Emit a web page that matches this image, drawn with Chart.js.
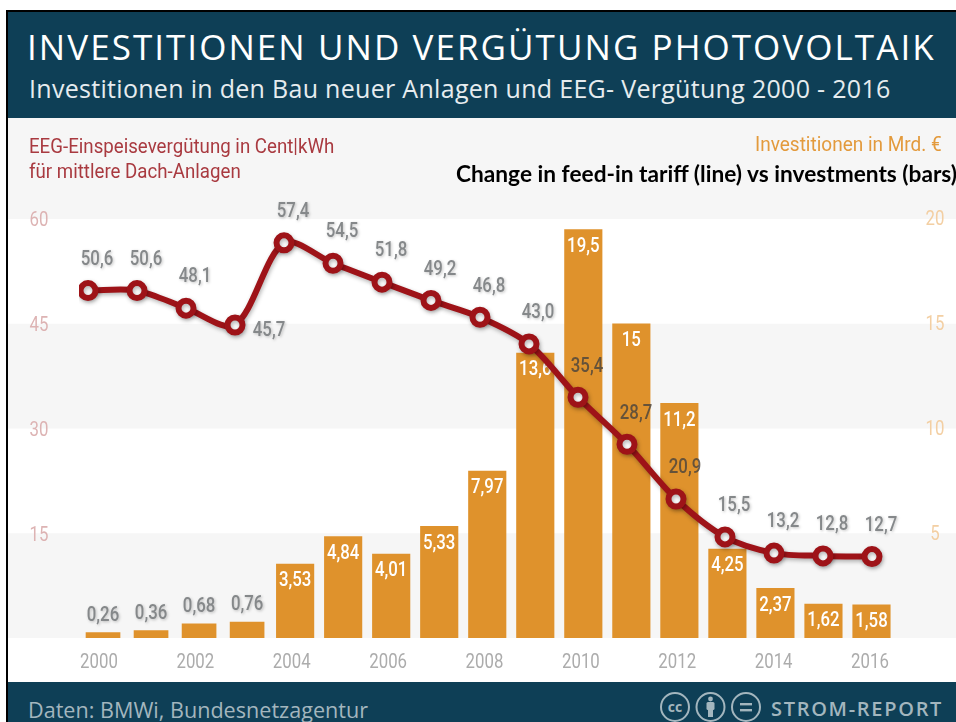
<!DOCTYPE html>
<html lang="de">
<head>
<meta charset="utf-8">
<title>Investitionen und Vergütung Photovoltaik</title>
<script src="https://cdn.jsdelivr.net/npm/chart.js@4"></script>
<style>
    html, body { margin: 0; padding: 0; background: #fff; overflow: hidden; }
    #page { position: relative; width: 956px; height: 722px; overflow: hidden; }
    #page canvas { position: absolute; left: 0; top: 0; }
    .abs { position: absolute; white-space: nowrap; line-height: 1; }
    #frame-top { left: 6px; top: 10px; width: 950px; height: 2px; background: #000; }
    #frame-left { left: 6px; top: 10px; width: 2px; height: 712px; background: #000; }
    #header { left: 8px; top: 12px; width: 948px; height: 106px; background: #0e3f56; }
    #footer { left: 8px; top: 682px; width: 948px; height: 40px; background: #0e3f56; }
    #title { left: 27px; top: 23px; color: #fff; font: 500 35px "Open Sans", sans-serif; letter-spacing: 2.05px; }
    #subtitle { left: 29px; top: 71px; color: #e6ecef; font: 25px "Open Sans", sans-serif; letter-spacing: 0.3px; }
    .narrow { font-family: Roboto, sans-serif; font-size: 21px; transform-origin: left center; transform: scaleX(0.89); }
    #axis-left-1 { left: 29px; top: 136px; color: #a93a40; }
    #axis-left-2 { left: 29px; top: 161px; color: #a93a40; }
    #axis-right { left: 755px; top: 134px; color: #e39a3c; transform: scaleX(0.905); }
    #note { left: 456px; top: 160px; color: #000; font: 700 22.7px Lato, sans-serif; }
    #source { left: 28px; top: 695px; color: #a3b6be; font: 21.6px "Open Sans", sans-serif; }
    #brand { left: 771px; top: 695px; color: #a3b6be; font: 600 20px "Open Sans", sans-serif; letter-spacing: 1.7px; }
    .cc { left: 660px; top: 692px; }
</style>
</head>
<body>
<div id="page">
    <canvas id="chart" width="956" height="722"></canvas>
    <div class="abs" id="frame-top"></div>
    <div class="abs" id="frame-left"></div>
    <div class="abs" id="header"></div>
    <div class="abs" id="footer"></div>
    <div class="abs" id="title">INVESTITIONEN UND VERGÜTUNG PHOTOVOLTAIK</div>
    <div class="abs" id="subtitle">Investitionen in den Bau neuer Anlagen und EEG- Vergütung 2000 - 2016</div>
    <div class="abs narrow" id="axis-left-1">EEG-Einspeisevergütung in Cent|kWh</div>
    <div class="abs narrow" id="axis-left-2">für mittlere Dach-Anlagen</div>
    <div class="abs narrow" id="axis-right">Investitionen in Mrd. €</div>
    <div class="abs" id="note">Change in feed-in tariff (line) vs investments (bars)</div>
    <div class="abs" id="source">Daten: BMWi, Bundesnetzagentur</div>
    <svg class="abs cc" width="102" height="30" viewBox="0 0 102 30">
        <g fill="none" stroke="#a3b6be" stroke-width="2">
            <circle cx="15" cy="15" r="14"></circle>
            <circle cx="50.5" cy="15" r="14"></circle>
            <circle cx="86" cy="15" r="14"></circle>
        </g>
        <text x="15" y="20" text-anchor="middle" fill="#a3b6be" font-family="Open Sans" font-weight="700" font-size="14">cc</text>
        <g fill="#a3b6be">
            <circle cx="50.5" cy="7" r="2.4"></circle>
            <rect x="46.5" y="10" width="8" height="8" rx="1.5"></rect>
            <rect x="48" y="16" width="5" height="9"></rect>
            <rect x="80" y="11" width="12" height="2.4"></rect>
            <rect x="80" y="17" width="12" height="2.4"></rect>
        </g>
    </svg>
    <div class="abs" id="brand">STROM-REPORT</div>
</div>
<script>
const years = ['2000', '2001', '2002', '2003', '2004', '2005', '2006', '2007', '2008', '2009', '2010', '2011', '2012', '2013', '2014', '2015', '2016'];
const lineYears = [2000, 2001, 2002, 2003, 2004, 2005, 2006, 2007, 2008, 2009, 2010, 2011, 2012, 2013, 2014, 2015, 2016];
const investments = [0.26, 0.36, 0.68, 0.76, 3.53, 4.84, 4.01, 5.33, 7.97, 13.6, 19.5, 15, 11.2, 4.25, 2.37, 1.62, 1.58];
const tariff = [50.6, 50.6, 48.1, 45.7, 57.4, 54.5, 51.8, 49.2, 46.8, 43.0, 35.4, 28.7, 20.9, 15.5, 13.2, 12.8, 12.7];
const yearTicks = [2000, 2002, 2004, 2006, 2008, 2010, 2012, 2014, 2016];
const tariffTicks = [15, 30, 45, 60];
const investTicks = [5, 10, 15, 20];

const SMALL_BARS = 4;    // the first years are drawn a little narrower

// grey bands run over the full width, not only the chart area
const bandsPlugin = {
    id: 'bands',
    beforeDraw(chart) {
        const ctx = chart.ctx;
        const y = chart.scales.yTariff;
        const bands = [[118, y.getPixelForValue(60)], [y.getPixelForValue(45), y.getPixelForValue(30)], [y.getPixelForValue(15), y.getPixelForValue(0)]];
        ctx.save();
        ctx.fillStyle = '#f6f6f6';
        bands.forEach(b => ctx.fillRect(8, b[0], 948, b[1] - b[0]));
        ctx.restore();
    }
};

// no condensed font is installed, so the labels are squeezed by hand
function drawText(ctx, text, x, y, color, shadow, weight) {
    ctx.save();
    ctx.translate(x, y);
    ctx.scale(0.8, 1);
    ctx.font = (weight || 400) + ' 21px Roboto, sans-serif';
    ctx.textAlign = 'center';
    ctx.textBaseline = 'middle';
    ctx.fillStyle = color;
    if (shadow) {
        ctx.shadowColor = 'rgba(0,0,0,0.25)';
        ctx.shadowBlur = 3;
        ctx.shadowOffsetX = 1;
        ctx.shadowOffsetY = 1;
    }
    ctx.fillText(text, 0, 0);
    ctx.restore();
}

// axis labels take their positions from the scales
const axisLabelsPlugin = {
    id: 'axisLabels',
    afterDraw(chart) {
        const ctx = chart.ctx;
        const s = chart.scales;
        yearTicks.forEach(v => drawText(ctx, String(v), s.xTicks.getPixelForValue(v), 663, '#acacac'));
        tariffTicks.forEach(v => drawText(ctx, String(v), 39, s.yTariff.getPixelForValue(v) + 2, '#ddb3b3'));
        investTicks.forEach(v => drawText(ctx, String(v), 935, s.yInvest.getPixelForValue(v) + 1, '#f3cfa3'));
    }
};

// value labels: bars while they are drawn (so the line stays on top), line labels last
const labelsPlugin = {
    id: 'valueLabels',
    beforeDatasetDraw(chart, args) {
        if (args.index !== 2) return;
        const ctx = chart.ctx;
        ctx.save();
        ctx.shadowColor = 'rgba(0,0,0,0.3)';
        ctx.shadowBlur = 4;
        ctx.shadowOffsetX = 1;
        ctx.shadowOffsetY = 2;
    },
    afterDatasetDraw(chart, args) {
        if (args.index === 2) {
            chart.ctx.restore();
            return;
        }
        args.meta.data.forEach((bar, i) => {
            const v = investments[i];
            if ((args.index === 0) !== (i < SMALL_BARS)) return;
            const text = String(v).replace('.', ',');
            if (v < 1) drawText(chart.ctx, text, bar.x, bar.y - 17, '#85888a', true, 500);
            else drawText(chart.ctx, text, bar.x, bar.y + 17, '#fff', false, 500);
        });
    },
    afterDatasetsDraw(chart) {
        const points = chart.getDatasetMeta(2).data;
        points.forEach((p, i) => {
            const text = tariff[i].toFixed(1).replace('.', ',');
            const below = i === 3;
            const dark = i >= 10 && i <= 12;
            drawText(chart.ctx, text, p.x + (below ? 34 : 9), p.y + (below ? 6 : -31), dark ? 'rgba(80,70,60,0.85)' : '#85888a', !dark, 500);
        });
    }
};

new Chart(document.getElementById('chart'), {
    data: {
        labels: years,
        datasets: [
            {
                type: 'bar',
                data: investments.map((v, i) => i < SMALL_BARS ? v : null),
                xAxisID: 'x',
                yAxisID: 'yInvest',
                backgroundColor: '#df922c',
                barThickness: 34,
                grouped: false,
                order: 3
            },
            {
                type: 'bar',
                data: investments.map((v, i) => i >= SMALL_BARS ? v : null),
                xAxisID: 'x',
                yAxisID: 'yInvest',
                backgroundColor: '#df922c',
                barThickness: 37.5,
                grouped: false,
                order: 2
            },
            {
                type: 'line',
                data: tariff.map((v, i) => ({ x: lineYears[i], y: v })),
                xAxisID: 'xLine',
                yAxisID: 'yLine',
                borderColor: '#9e1318',
                borderWidth: 6,
                tension: 0.3,
                pointRadius: 7.5,
                pointBorderWidth: 6,
                pointBackgroundColor: '#fff',
                pointBorderColor: '#9e1318',
                order: 1
            }
        ]
    },
    options: {
        responsive: false,
        animation: false,
        layout: { padding: { top: 219 } },
        plugins: {
            legend: { display: false },
            tooltip: { enabled: false }
        },
        scales: {
            // bar positions
            x: { type: 'category', display: false, grid: { display: false } },
            // the line's points are spaced a bit wider than the bars in the original
            xLine: { type: 'linear', display: false, min: 1999.816, max: 2016.48, grid: { display: false } },
            // year labels
            xTicks: {
                type: 'linear',
                position: 'bottom',
                min: 1999.585,
                max: 2016.529,
                grid: { display: false },
                border: { display: false },
                afterBuildTicks(scale) { scale.ticks = yearTicks.map(v => ({ value: v })); },
                afterFit(scale) { scale.height = 84; },
                ticks: { display: false }
            },
            yTariff: {
                position: 'left',
                min: 0,
                max: 60,
                grid: { display: false },
                border: { display: false },
                afterBuildTicks(scale) { scale.ticks = tariffTicks.map(v => ({ value: v })); },
                afterFit(scale) { scale.width = 79; },
                ticks: { display: false }
            },
            yInvest: {
                position: 'right',
                min: 0,
                max: 20,
                grid: { display: false },
                border: { display: false },
                afterBuildTicks(scale) { scale.ticks = investTicks.map(v => ({ value: v })); },
                afterFit(scale) { scale.width = 60.5; },
                ticks: { display: false }
            },
            // the line sits a few pixels lower than the printed left axis
            yLine: { display: false, min: 1.1, max: 60.8, grid: { display: false } }
        }
    },
    plugins: [bandsPlugin, labelsPlugin, axisLabelsPlugin]
});
</script>
</body>
</html>
